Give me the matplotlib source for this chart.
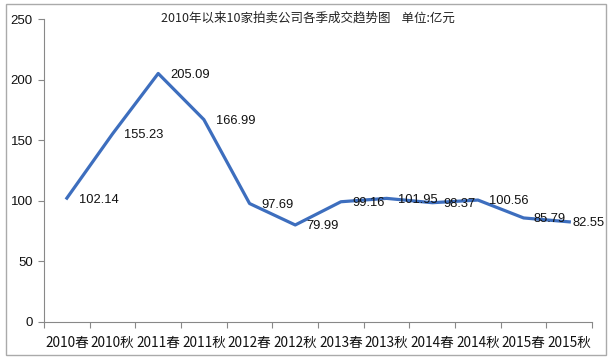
import matplotlib.pyplot as plt
from matplotlib.patches import Rectangle
import numpy as np

plt.rcParams['font.family'] = ['Liberation Sans', 'Noto Sans CJK SC']

seasons = ['2010春', '2010秋', '2011春', '2011秋', '2012春', '2012秋',
           '2013春', '2013秋', '2014春', '2014秋', '2015春', '2015秋']
values = [102.14, 155.23, 205.09, 166.99, 97.69, 79.99,
          99.16, 101.95, 98.37, 100.56, 85.79, 82.55]
title = '2010年以来10家拍卖公司各季成交趋势图    单位:亿元'

# label offsets in points (Excel nudged the last one)
label_dx = [8.5, 8.5, 9, 9, 8.5, 8, 8, 8.5, 8, 8, 7, 2.5]

fig = plt.figure(figsize=(6.09, 3.60), dpi=100)
ax = fig.add_axes([0.0723, 0.106, 0.900, 0.841])

x = np.arange(len(seasons))
ax.plot(x, values, color='#3D6EBE', lw=2.3, solid_joinstyle='round')

for xi, v, dx in zip(x, values, label_dx):
    ax.annotate(f'{v:.2f}', (xi, v), xytext=(dx, -1), textcoords='offset points',
                ha='left', va='center', fontsize=9.3, color='#111111',
                annotation_clip=False)

ax.set_xlim(-0.5, len(seasons) - 0.5)
ax.set_ylim(0, 250)
ax.set_yticks(range(0, 251, 50))
ax.set_xticks(x)
ax.set_xticklabels(seasons, family=['Noto Sans CJK SC'], fontsize=9.8,
                   color='#111111')
ax.set_xticks(np.arange(-0.5, len(seasons)), minor=True)
ax.tick_params(axis='x', which='major', length=0, pad=10)
ax.tick_params(axis='x', which='minor', length=4, color='#888888', width=0.8)
ax.tick_params(axis='y', length=4, color='#888888', width=0.8, labelsize=9.5,
               pad=4, labelcolor='#111111')

for s in ['top', 'right']:
    ax.spines[s].set_visible(False)
for s in ['left', 'bottom']:
    ax.spines[s].set_color('#888888')
    ax.spines[s].set_linewidth(0.8)

fig.text(0.505, 0.95, title, ha='center', va='center', fontsize=9,
         family=['Noto Sans CJK SC'], color='#222222')

fig.patches.append(Rectangle((6 / 609, 1 - 355 / 360), 600 / 609, 351 / 360,
                             transform=fig.transFigure, fill=False,
                             edgecolor='#AAAAAA', lw=1))

fig.savefig('out.png', dpi=100)
